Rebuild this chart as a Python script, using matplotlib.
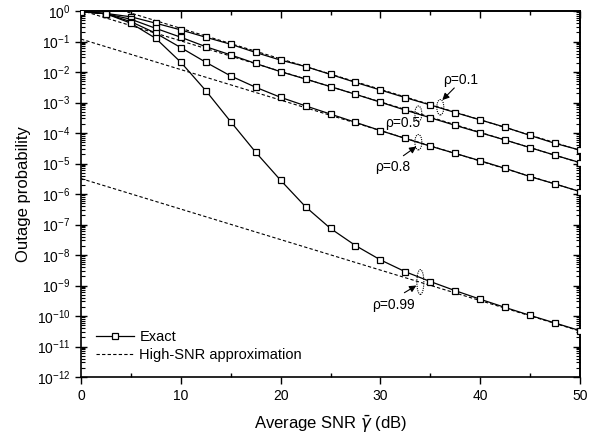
import numpy as np
import matplotlib
matplotlib.use("Agg")
import matplotlib.pyplot as plt
from matplotlib.patches import Ellipse

plt.rcParams['font.family'] = ['Liberation Sans', 'DejaVu Sans']

snr_db = [0, 2.5, 5, 7.5, 10, 12.5, 15, 17.5, 20, 22.5, 25, 27.5, 30,
          32.5, 35, 37.5, 40, 42.5, 45, 47.5, 50]

# exact outage probability, log10 values
log_exact_01 = [-0.02, -0.08, -0.19, -0.40, -0.62, -0.86, -1.09, -1.36, -1.61, -1.82,
                -2.08, -2.34, -2.59, -2.84, -3.08, -3.33, -3.57, -3.81, -4.08, -4.34, -4.56]
log_exact_05 = [-0.02, -0.09, -0.27, -0.57, -0.86, -1.17, -1.44, -1.72, -1.99, -2.23,
                -2.48, -2.73, -2.99, -3.25, -3.50, -3.75, -3.99, -4.23, -4.48, -4.73, -4.97]
log_exact_08 = [-0.02, -0.09, -0.35, -0.73, -1.20, -1.68, -2.13, -2.50, -2.83, -3.11,
                -3.38, -3.65, -3.92, -4.18, -4.43, -4.67, -4.91, -5.16, -5.43, -5.67, -5.92]
log_exact_099 = [-0.02, -0.09, -0.40, -0.90, -1.68, -2.61, -3.63, -4.63, -5.55, -6.42,
                 -7.13, -7.69, -8.16, -8.55, -8.87, -9.17, -9.45, -9.72, -9.98, -10.23, -10.48]

# high-SNR approximation (straight lines), values at 0 dB and 50 dB
approx_x = [0, 50]
approx_01 = [2.7, 2.7e-5]
approx_05 = [1.05, 1.05e-5]
approx_08 = [0.12, 1.2e-6]
approx_099 = [3.2e-6, 3.2e-11]

labels = ["ρ=0.1", "ρ=0.5", "ρ=0.8", "ρ=0.99"]

fig = plt.figure(figsize=(6.02, 4.37), dpi=100)
ax = fig.add_axes([0.1346, 0.1373, 0.8289, 0.8375])

for i, (lg, ap) in enumerate([(log_exact_01, approx_01), (log_exact_05, approx_05),
                              (log_exact_08, approx_08), (log_exact_099, approx_099)]):
    ax.plot(approx_x, ap, 'k--', lw=0.8, dashes=(3, 2),
            label="High-SNR approximation" if i == 0 else None, zorder=2)
    ax.plot(snr_db, 10 ** np.array(lg), 'k-', lw=0.9, marker='s', ms=5,
            mfc='white', mec='black', mew=0.9,
            label="Exact" if i == 0 else None, zorder=3)

ax.set_yscale('log')
ax.set_xlim(0, 50)
ax.set_ylim(1e-12, 1)
ax.set_xticks([0, 10, 20, 30, 40, 50])
ax.set_xticks([5, 15, 25, 35, 45], minor=True)
ax.set_yticks([10.0 ** -k for k in range(13)])
ax.yaxis.set_minor_locator(matplotlib.ticker.LogLocator(base=10, subs=np.arange(2, 10), numticks=30))
ax.yaxis.set_minor_formatter(matplotlib.ticker.NullFormatter())
ax.tick_params(axis='x', which='major', direction='out', length=5, width=1, labelsize=10)
ax.tick_params(axis='x', which='minor', direction='in', length=3, width=1)
ax.tick_params(axis='y', which='major', direction='inout', length=8, width=1, labelsize=10)
ax.tick_params(axis='y', which='minor', direction='in', length=3, width=0.8)

top = ax.secondary_xaxis('top')
top.set_xticks([0, 10, 20, 30, 40, 50])
top.set_xticks([5, 15, 25, 35, 45], minor=True)
top.tick_params(which='major', direction='in', length=5, width=1, labeltop=False)
top.tick_params(which='minor', direction='in', length=3, width=1)
right = ax.secondary_yaxis('right')
right.set_yticks([10.0 ** -k for k in range(13)])
right.yaxis.set_minor_locator(matplotlib.ticker.LogLocator(base=10, subs=np.arange(2, 10), numticks=30))
right.yaxis.set_minor_formatter(matplotlib.ticker.NullFormatter())
right.tick_params(which='major', direction='in', length=5, width=1, labelright=False)
right.tick_params(which='minor', direction='in', length=3, width=0.8)

for a in [ax, top, right]:
    for s in a.spines.values():
        s.set_linewidth(1.2)

ax.set_xlabel(r'Average SNR $\bar{\gamma}$ (dB)', fontsize=12, labelpad=8)
ax.set_ylabel('Outage probability', fontsize=12)

leg = ax.legend(handles=ax.get_lines()[1:2] + ax.get_lines()[0:1], loc='lower left',
                frameon=False, fontsize=10.5, handlelength=2.6, handletextpad=0.4,
                borderaxespad=0.6, labelspacing=0.3)

# dotted ellipses and pointers
ell_x = [36.0, 33.8, 33.8, 34.0]
ell_y = [7.0e-4, 4.3e-4, 5.0e-5, 1.3e-9]
ell_h = [0.042, 0.042, 0.042, 0.068]
text_pos = [(36.3, 5.5e-3), (30.5, 2.1e-4), (29.5, 7.7e-6), (29.2, 2.3e-10)]
arrow_from = [(37.4, 3.0e-3), None, (32.3, 1.8e-5), (32.4, 5.8e-10)]
arrow_to = [(36.2, 1.2e-3), None, (33.6, 3.6e-5), (33.6, 1.0e-9)]
for i in range(4):
    cx, cy = ax.transAxes.inverted().transform(ax.transData.transform((ell_x[i], ell_y[i])))
    ax.add_patch(Ellipse((cx, cy), width=0.014, height=ell_h[i], transform=ax.transAxes,
                         fill=False, ls=(0, (1, 1)), lw=0.8, ec='black', zorder=4))
    ax.text(text_pos[i][0], text_pos[i][1], labels[i], fontsize=10, ha='left', va='center')
    if arrow_from[i] is not None:
        ax.annotate('', xy=arrow_to[i], xytext=arrow_from[i],
                    arrowprops=dict(arrowstyle='-|>', color='black', lw=0.8,
                                    mutation_scale=10, shrinkA=0, shrinkB=0),
                    zorder=5)

fig.savefig('out.png', dpi=100)
